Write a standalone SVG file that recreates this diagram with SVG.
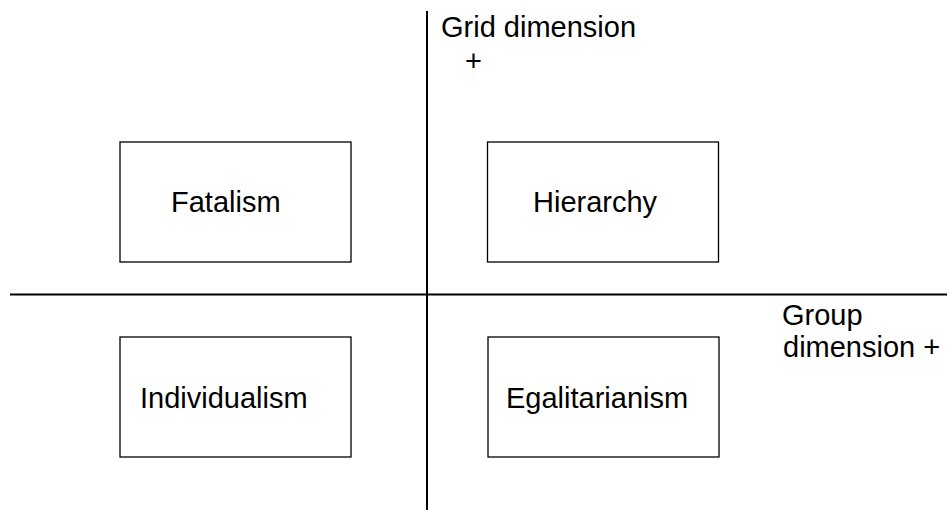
<svg xmlns="http://www.w3.org/2000/svg" width="947" height="510" viewBox="0 0 947 510">
<style>
.box{fill:#fff;stroke:#000;stroke-width:1.3}
.axis{stroke:#000;stroke-width:2;fill:none}
text{font-family:"Liberation Sans",Arial,sans-serif;font-size:29px;fill:#000}
</style>
<rect width="947" height="510" fill="#fff"/>
<g id="axes">
<line class="axis" x1="427" y1="11" x2="427" y2="510"/>
<line class="axis" x1="10" y1="294.5" x2="947" y2="294.5"/>
</g>
<g id="grid-label"><text x="441" y="37">Grid dimension</text><text x="465" y="71">+</text></g>
<g id="group-label"><text x="782" y="325">Group</text><text x="783" y="357">dimension +</text></g>
<g id="fatalism"><rect class="box" x="120" y="142" width="231" height="120"/><text x="171" y="212">Fatalism</text></g>
<g id="hierarchy"><rect class="box" x="487.5" y="142" width="231" height="120"/><text x="533" y="212">Hierarchy</text></g>
<g id="individualism"><rect class="box" x="120" y="337" width="231" height="120"/><text x="140" y="408">Individualism</text></g>
<g id="egalitarianism"><rect class="box" x="488" y="337" width="231" height="120"/><text x="506" y="408">Egalitarianism</text></g>
</svg>
